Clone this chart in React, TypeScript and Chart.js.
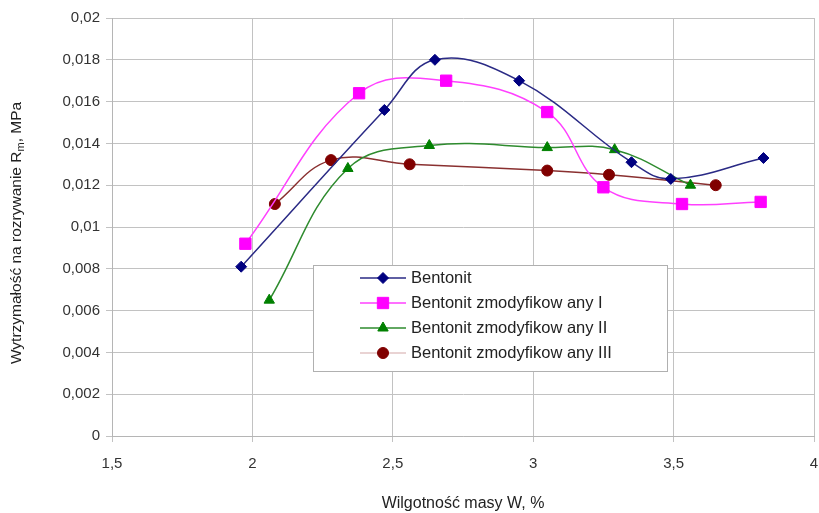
import React, { useEffect, useRef } from 'react';
import { Chart, registerables } from 'chart.js';
import { drawPoint } from 'chart.js/helpers';

Chart.register(...registerables);

const seriesNames = [
  'Bentonit',
  'Bentonit zmodyfikow any I',
  'Bentonit zmodyfikow any II',
  'Bentonit zmodyfikow any III',
];

const bentonitX = [1.96, 2.47, 2.65, 2.95, 3.35, 3.49, 3.82];
const bentonitY = [0.0081, 0.0156, 0.018, 0.017, 0.0131, 0.0123, 0.0133];

const mod1X = [1.975, 2.38, 2.69, 3.05, 3.25, 3.53, 3.81];
const mod1Y = [0.0092, 0.0164, 0.017, 0.0155, 0.0119, 0.0111, 0.0112];

const mod2X = [2.06, 2.34, 2.63, 3.05, 3.29, 3.56];
const mod2Y = [0.0065, 0.0128, 0.0139, 0.0138, 0.0137, 0.012];

const mod3X = [2.08, 2.28, 2.56, 3.05, 3.27, 3.65];
const mod3Y = [0.0111, 0.0132, 0.013, 0.0127, 0.0125, 0.012];

const xMin = 1.5;
const xMax = 4;
const xStep = 0.5;
const yMin = 0;
const yMax = 0.02;
const yStep = 0.002;

const xTitle = 'Wilgotność masy W, %';
const yTitleMain = 'Wytrzymałość na rozrywanie R';
const yTitleSub = 'm';
const yTitleEnd = ', MPa';

const FONT = '"Liberation Sans", Arial, sans-serif';

const toPoints = (xs: number[], ys: number[]) => xs.map((x, i) => ({ x, y: ys[i] }));

const fmt = (v: number) => String(Math.round(v * 1000) / 1000).replace('.', ',');

const legendLineColors = ['#2a2a85', '#ff40ff', '#2e8b2e', '#e2c4c4'];

const customPlugin = {
  id: 'customDecor',
  afterDraw(chart: any) {
    const ctx = chart.ctx as CanvasRenderingContext2D;
    // Y title with subscript
    ctx.save();
    ctx.translate(17, 233);
    ctx.rotate(-Math.PI / 2);
    ctx.fillStyle = '#222';
    ctx.textBaseline = 'middle';
    ctx.textAlign = 'left';
    const mainFont = `15.5px ${FONT}`;
    const subFont = `11px ${FONT}`;
    ctx.font = mainFont;
    const w1 = ctx.measureText(yTitleMain).width;
    const w3 = ctx.measureText(yTitleEnd).width;
    ctx.font = subFont;
    const w2 = ctx.measureText(yTitleSub).width;
    const total = w1 + w2 + w3;
    let x = -total / 2;
    ctx.font = mainFont;
    ctx.fillText(yTitleMain, x, 0);
    x += w1;
    ctx.font = subFont;
    ctx.fillText(yTitleSub, x, 4);
    x += w2;
    ctx.font = mainFont;
    ctx.fillText(yTitleEnd, x, 0);
    ctx.restore();

    // Legend box
    const bx = 313, by = 265, bw = 354, bh = 106;
    ctx.save();
    ctx.fillStyle = '#ffffff';
    ctx.fillRect(bx, by, bw, bh);
    ctx.strokeStyle = '#b0b0b0';
    ctx.lineWidth = 1;
    ctx.strokeRect(bx + 0.5, by + 0.5, bw, bh);
    const rows = [278, 303, 328, 353];
    chart.data.datasets.forEach((ds: any, i: number) => {
      const y = rows[i];
      ctx.strokeStyle = legendLineColors[i];
      ctx.lineWidth = 1.5;
      ctx.beginPath();
      ctx.moveTo(360, y);
      ctx.lineTo(406, y);
      ctx.stroke();
      ctx.fillStyle = ds.pointBackgroundColor;
      ctx.strokeStyle = ds.pointBorderColor;
      ctx.lineWidth = 1;
      drawPoint(ctx, { pointStyle: ds.pointStyle, radius: ds.pointRadius, rotation: 0, borderWidth: 1 } as any, 383, y);
      ctx.fillStyle = '#222';
      ctx.font = `16.5px ${FONT}`;
      ctx.textBaseline = 'middle';
      ctx.textAlign = 'left';
      ctx.fillText(ds.label, 411, y);
    });
    ctx.restore();
  },
};

export default function App() {
  const ref = useRef<HTMLCanvasElement | null>(null);

  useEffect(() => {
    if (!ref.current) return;
    const mk = (label: string, pts: any, line: string, fill: string, style: string, r: number) => ({
      label,
      data: pts,
      borderColor: line,
      borderWidth: 1.5,
      backgroundColor: fill,
      pointBackgroundColor: fill,
      pointBorderColor: fill,
      pointBorderWidth: 1,
      pointStyle: style,
      pointRadius: r,
      pointHoverRadius: r,
      tension: 0.4,
      fill: false,
      showLine: true,
    });
    const chart = new Chart(ref.current, {
      type: 'scatter',
      data: {
        datasets: [
          mk(seriesNames[0], toPoints(bentonitX, bentonitY), '#2a2a85', '#000080', 'rectRot', 5.5),
          mk(seriesNames[1], toPoints(mod1X, mod1Y), '#ff40ff', '#ff00ff', 'rect', 8),
          mk(seriesNames[2], toPoints(mod2X, mod2Y), '#2e8b2e', '#008000', 'triangle', 6),
          mk(seriesNames[3], toPoints(mod3X, mod3Y), '#8a3030', '#800000', 'circle', 5.5),
        ] as any,
      },
      options: {
        animation: false,
        responsive: true,
        maintainAspectRatio: false,
        layout: { padding: { top: 18, right: 0, left: 0, bottom: 0 } },
        plugins: {
          legend: { display: false },
          tooltip: { enabled: false },
        },
        scales: {
          x: {
            type: 'linear',
            min: xMin,
            max: xMax,
            ticks: {
              stepSize: xStep,
              color: '#333',
              font: { family: FONT, size: 15 },
              padding: 13,
              maxRotation: 0,
              callback: (v: any) => fmt(Number(v)),
            },
            grid: { color: '#c2c2c2', lineWidth: 1, tickLength: 6 },
            border: { color: '#b5b5b5', width: 1 },
            title: {
              display: true,
              text: xTitle,
              color: '#222',
              font: { family: FONT, size: 16 },
              padding: { top: 0, bottom: 0 },
            },
            afterFit: (s: any) => { s.height = 77; s.paddingLeft = 0; s.paddingRight = 0; },
          },
          y: {
            type: 'linear',
            min: yMin,
            max: yMax,
            ticks: {
              stepSize: yStep,
              color: '#333',
              font: { family: FONT, size: 15 },
              padding: 6,
              callback: (v: any) => fmt(Number(v)),
            },
            grid: { color: '#c2c2c2', lineWidth: 1, tickLength: 6 },
            border: { color: '#b5b5b5', width: 1 },
            afterFit: (s: any) => { s.width = 112; s.paddingTop = 0; s.paddingBottom = 0; },
          },
        },
      } as any,
      plugins: [customPlugin],
    });
    return () => chart.destroy();
  }, []);

  return (
    <div style={{ position: 'absolute', left: 0, top: 0, width: 819, height: 513, overflow: 'hidden', background: '#fff' }}>
      <div style={{ position: 'relative', width: 823, height: 513 }}>
        <canvas ref={ref} />
      </div>
    </div>
  );
}
